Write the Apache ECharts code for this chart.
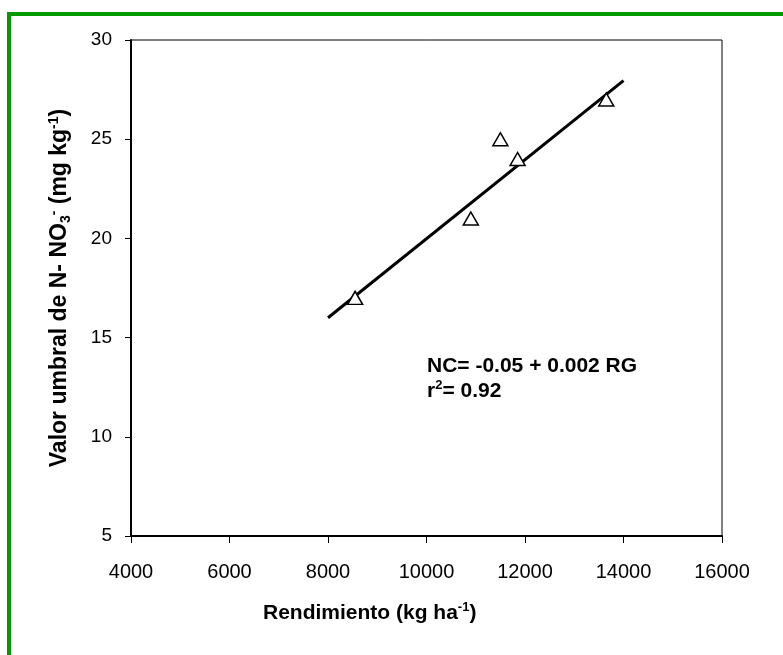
<!DOCTYPE html>
<html>
<head>
<meta charset="utf-8">
<script src="https://cdn.jsdelivr.net/npm/echarts@6/dist/echarts.min.js"></script>
<style>
  html, body { margin: 0; padding: 0; background: #fff; }
  #frame {
    position: absolute; left: 7px; top: 12px; width: 776px; height: 643px;
    border-top: 4px solid #009900; border-left: 4px solid #009900;
    box-sizing: border-box;
  }
  #chart { position: absolute; left: 0; top: 0; width: 783px; height: 655px; }
</style>
</head>
<body>
<div id="frame"></div>
<div id="chart"></div>
<script>
// observed points (rendimiento kg/ha, umbral N-NO3 mg/kg)
var yieldVals = [8550, 10900, 11500, 11850, 13650];
var nitrateVals = [17, 21, 25, 24, 27];
// fitted line ends
var fitX = [8000, 14000];
var fitY = [16, 27.95];
var xTicks = [4000, 16000, 2000];
var yTicks = [5, 30, 5];

var chart = echarts.init(document.getElementById("chart"));

var font = "'Liberation Sans', Arial, sans-serif";

chart.setOption({
  animation: false,
  grid: {
    left: 131,
    top: 40,
    right: 61,
    bottom: 119,
    show: true,
    borderColor: "#000",
    borderWidth: 1
  },
  xAxis: {
    type: "value",
    min: xTicks[0],
    max: xTicks[1],
    interval: xTicks[2],
    axisLine: { lineStyle: { color: "#000", width: 2 } },
    axisTick: { show: true, length: 7, lineStyle: { color: "#000", width: 1 } },
    axisLabel: {
      color: "#000", fontSize: 20, fontFamily: font, margin: 26,
      formatter: function (v) { return String(v); }
    },
    splitLine: { show: false }
  },
  yAxis: {
    type: "value",
    min: yTicks[0],
    max: yTicks[1],
    interval: yTicks[2],
    name: "{b|Valor umbral de N- NO}{sub|3}{sup|-}{b| (mg kg}{sup|-1}{b|)}",
    nameLocation: "middle",
    nameGap: 58,
    nameTextStyle: {
      rich: {
        b: { fontSize: 23, fontWeight: "bold", fontFamily: font, color: "#000", lineHeight: 26 },
        sub: { fontSize: 14, fontWeight: "bold", fontFamily: font, color: "#000", verticalAlign: "bottom", lineHeight: 12 },
        sup: { fontSize: 14, fontWeight: "bold", fontFamily: font, color: "#000", verticalAlign: "top", lineHeight: 12 }
      }
    },
    axisLine: { show: true, lineStyle: { color: "#000", width: 2 } },
    axisTick: { show: true, length: 6, lineStyle: { color: "#000", width: 1 } },
    axisLabel: { color: "#000", fontSize: 19, fontFamily: font, margin: 19 },
    splitLine: { show: false }
  },
  graphic: [
    {
      type: "text",
      left: 263,
      top: 601,
      style: {
        text: "{b|Rendimiento (kg ha}{sup|-1}{b|)}",
        rich: {
          b: { fontSize: 21, fontWeight: "bold", fontFamily: font, fill: "#000", lineHeight: 24 },
          sup: { fontSize: 13, fontWeight: "bold", fontFamily: font, fill: "#000", verticalAlign: "top", lineHeight: 11 }
        }
      }
    },
    {
      type: "text",
      left: 427,
      top: 356,
      style: {
        text: "{b|NC= -0.05 + 0.002 RG}\n{b|r}{sup|2}{b|= 0.92}",
        rich: {
          b: { fontSize: 21, fontWeight: "bold", fontFamily: font, fill: "#000", lineHeight: 25 },
          sup: { fontSize: 13, fontWeight: "bold", fontFamily: font, fill: "#000", verticalAlign: "top", lineHeight: 12 }
        }
      }
    }
  ],
  series: [
    {
      type: "line",
      data: fitX.map(function (x, i) { return [x, fitY[i]]; }),
      symbol: "none",
      lineStyle: { color: "#000", width: 3 },
      z: 2
    },
    {
      type: "scatter",
      data: yieldVals.map(function (x, i) { return [x, nitrateVals[i]]; }),
      symbol: "triangle",
      symbolSize: [15, 13],
      itemStyle: { color: "#fff", borderColor: "#000", borderWidth: 1.5, opacity: 1 },
      z: 3
    }
  ]
});
</script>
</body>
</html>
